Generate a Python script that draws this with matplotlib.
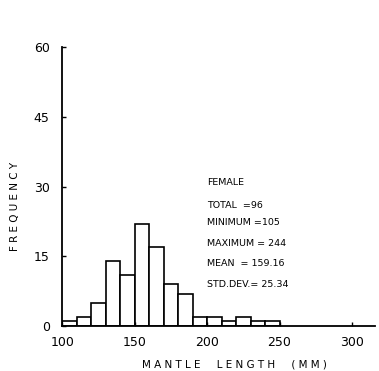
import matplotlib
matplotlib.use('Agg')
import matplotlib.pyplot as plt
import numpy as np

# mantle length bins (mm), 10 mm wide
bin_edges = [100, 110, 120, 130, 140, 150, 160, 170, 180, 190, 200, 210, 220, 230, 240, 250]
counts = [1, 2, 5, 14, 11, 22, 17, 9, 7, 2, 2, 1, 2, 1, 1]

x_ticks = [100, 150, 200, 250, 300]
y_ticks = [0, 15, 30, 45, 60]

stats_lines = ['FEMALE', 'TOTAL  =96', 'MINIMUM =105', 'MAXIMUM = 244',
               'MEAN  = 159.16', 'STD.DEV.= 25.34']

fig = plt.figure(figsize=(3.79, 3.71), dpi=100, facecolor='white')
ax = fig.add_axes([0.164, 0.121, 0.826, 0.752])

lefts = np.array(bin_edges[:-1])
widths = np.diff(bin_edges)
ax.bar(lefts, counts, width=widths, align='edge',
       facecolor='white', edgecolor='black', linewidth=1.2)

ax.set_xlim(100, 316)
ax.set_ylim(0, 60)
ax.set_xticks(x_ticks)
ax.set_yticks(y_ticks)
ax.tick_params(axis='both', direction='in', length=3, width=1, labelsize=9)
ax.tick_params(axis='x', pad=7)
ax.tick_params(axis='y', pad=9)
for s in ['top', 'right']:
    ax.spines[s].set_visible(False)
for s in ['left', 'bottom']:
    ax.spines[s].set_linewidth(1.3)

ax.set_xlabel('M A N T L E     L E N G T H     ( M M )', fontsize=7.5)
ax.set_ylabel('F R E Q U E N C Y', fontsize=7.5)
ax.xaxis.set_label_coords(0.55, -0.12)
ax.yaxis.set_label_coords(-0.135, 0.43)

# summary statistics block
y_pos = [30.8, 26.0, 22.2, 17.8, 13.5, 9.0]
for line, yy in zip(stats_lines, y_pos):
    ax.text(200, yy, line, fontsize=6.8, va='center', ha='left')

fig.savefig('out.png', dpi=100, facecolor='white')
